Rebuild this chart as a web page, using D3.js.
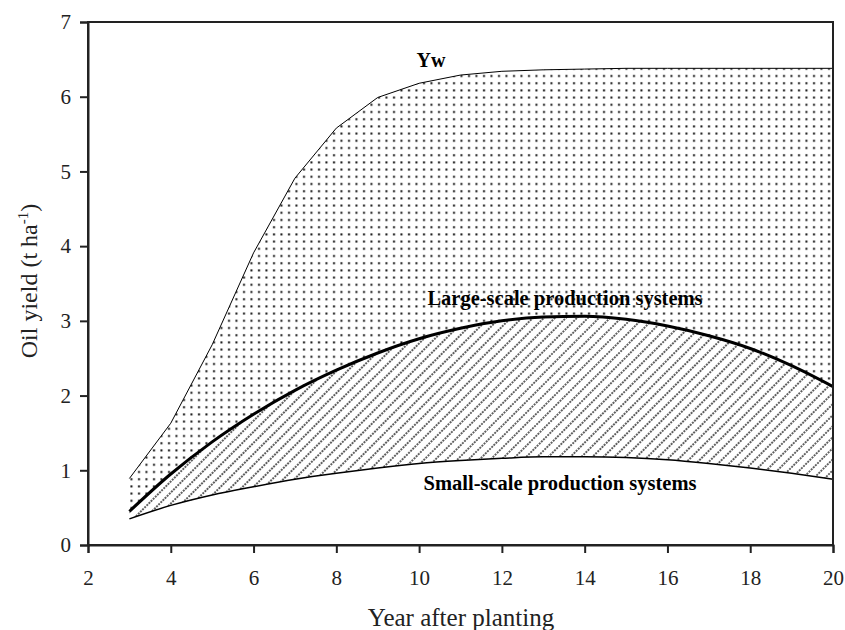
<!DOCTYPE html>
<html>
<head>
<meta charset="utf-8">
<script src="https://cdn.jsdelivr.net/npm/d3@7"></script>
<style>
  body { margin: 0; background: #fff; }
  svg { display: block; font-family: "Liberation Serif", "DejaVu Serif", serif; }
</style>
</head>
<body>
<svg id="canvas" width="845" height="630"></svg>
<script>
const years = [3, 4, 5, 6, 7, 8, 9, 10, 11, 12, 13, 14, 15, 16, 17, 18, 19, 20];
const yw = [0.89, 1.63, 2.68, 3.91, 4.91, 5.58, 5.99, 6.18, 6.29, 6.34, 6.36, 6.37, 6.38, 6.38, 6.38, 6.38, 6.38, 6.38];
const large = [0.45, 0.95, 1.38, 1.75, 2.07, 2.34, 2.57, 2.76, 2.9, 3.0, 3.05, 3.06, 3.02, 2.93, 2.8, 2.63, 2.4, 2.12];
const small = [0.35, 0.53, 0.67, 0.78, 0.88, 0.96, 1.03, 1.09, 1.13, 1.16, 1.18, 1.18, 1.17, 1.14, 1.09, 1.03, 0.96, 0.88];
const xTicks = [2, 4, 6, 8, 10, 12, 14, 16, 18, 20];
const yTicks = [0, 1, 2, 3, 4, 5, 6, 7];

const svg = d3.select("#canvas");
const mLeft = 88, mRight = 833, mTop = 22, mBottom = 545;
const serif = "'Liberation Serif', 'DejaVu Serif', serif";

const x = d3.scaleLinear().domain([2, 20]).range([mLeft, mRight]);
const y = d3.scaleLinear().domain([0, 7]).range([mBottom, mTop]);

const rows = years.map((yr, i) => ({ yr, yw: yw[i], large: large[i], small: small[i] }));

const defs = svg.append("defs");

const dots = defs.append("pattern")
    .attr("id", "dots")
    .attr("patternUnits", "userSpaceOnUse")
    .attr("width", 7.5)
    .attr("height", 7.2);
dots.append("rect")
    .attr("x", 3)
    .attr("y", 3)
    .attr("width", 2)
    .attr("height", 2)
    .attr("fill", "#111");

const hatch = defs.append("pattern")
    .attr("id", "hatch")
    .attr("patternUnits", "userSpaceOnUse")
    .attr("width", 7.8)
    .attr("height", 12)
    .attr("patternTransform", "rotate(45)");
hatch.append("line")
    .attr("x1", 1)
    .attr("y1", 0)
    .attr("x2", 1)
    .attr("y2", 12)
    .attr("stroke", "#111")
    .attr("stroke-width", 1.3)
    .attr("stroke-dasharray", "2,1");

// stipple between Yw and the large-scale curve
svg.append("path")
    .datum(rows)
    .attr("fill", "url(#dots)")
    .attr("d", d3.area()
        .x(d => x(d.yr))
        .y0(d => y(d.small))
        .y1(d => y(d.yw)));

// blank out under the large-scale curve
svg.append("path")
    .datum(rows)
    .attr("fill", "#fff")
    .attr("d", d3.area()
        .curve(d3.curveMonotoneX)
        .x(d => x(d.yr))
        .y0(d => y(d.small))
        .y1(d => y(d.large)));

// hatch between large and small
svg.append("path")
    .datum(rows)
    .attr("fill", "url(#hatch)")
    .attr("d", d3.area()
        .curve(d3.curveMonotoneX)
        .x(d => x(d.yr))
        .y0(d => y(d.small))
        .y1(d => y(d.large)));

svg.append("path")
    .datum(rows)
    .attr("fill", "none")
    .attr("stroke", "#000")
    .attr("stroke-width", 1)
    .attr("d", d3.line().x(d => x(d.yr)).y(d => y(d.yw)));

svg.append("path")
    .datum(rows)
    .attr("fill", "none")
    .attr("stroke", "#000")
    .attr("stroke-width", 3)
    .attr("d", d3.line().curve(d3.curveMonotoneX).x(d => x(d.yr)).y(d => y(d.large)));

svg.append("path")
    .datum(rows)
    .attr("fill", "none")
    .attr("stroke", "#000")
    .attr("stroke-width", 1.5)
    .attr("d", d3.line().curve(d3.curveMonotoneX).x(d => x(d.yr)).y(d => y(d.small)));

// frame
svg.append("rect")
    .attr("x", mLeft)
    .attr("y", mTop)
    .attr("width", mRight - mLeft)
    .attr("height", mBottom - mTop)
    .attr("fill", "none")
    .attr("stroke", "#222")
    .attr("stroke-width", 2);

const xAxis = svg.append("g")
    .attr("transform", `translate(0,${mBottom})`)
    .call(d3.axisBottom(x).tickValues(xTicks).tickFormat(d3.format("d")).tickSize(8).tickPadding(17));
const yAxis = svg.append("g")
    .attr("transform", `translate(${mLeft},0)`)
    .call(d3.axisLeft(y).tickValues(yTicks).tickFormat(d3.format("d")).tickSize(8).tickPadding(9));

[xAxis, yAxis].forEach(g => {
    g.attr("font-family", serif).attr("font-size", 21);
    g.select(".domain").attr("stroke", "#222").attr("stroke-width", 2);
    g.selectAll(".tick line").attr("stroke", "#222").attr("stroke-width", 2);
    g.selectAll(".tick text").attr("fill", "#222");
});

// labels
svg.append("text")
    .attr("x", 431)
    .attr("y", 67)
    .attr("text-anchor", "middle")
    .attr("font-weight", "bold")
    .attr("font-size", 20)
    .text("Yw");
svg.append("text")
    .attr("x", 565)
    .attr("y", 305)
    .attr("text-anchor", "middle")
    .attr("font-weight", "bold")
    .attr("font-size", 20.5)
    .text("Large-scale production systems");
svg.append("text")
    .attr("x", 560)
    .attr("y", 490)
    .attr("text-anchor", "middle")
    .attr("font-weight", "bold")
    .attr("font-size", 20.5)
    .text("Small-scale production systems");

svg.append("text")
    .attr("x", 461)
    .attr("y", 626)
    .attr("text-anchor", "middle")
    .attr("font-size", 25)
    .attr("fill", "#222")
    .text("Year after planting");

const yTitle = svg.append("text")
    .attr("transform", "translate(37,281) rotate(-90)")
    .attr("text-anchor", "middle")
    .attr("font-size", 24)
    .attr("fill", "#222");
yTitle.append("tspan").text("Oil yield (t ha");
yTitle.append("tspan").attr("dy", -9).attr("font-size", 15).text("-1");
yTitle.append("tspan").attr("dy", 9).text(")");
</script>
</body>
</html>
